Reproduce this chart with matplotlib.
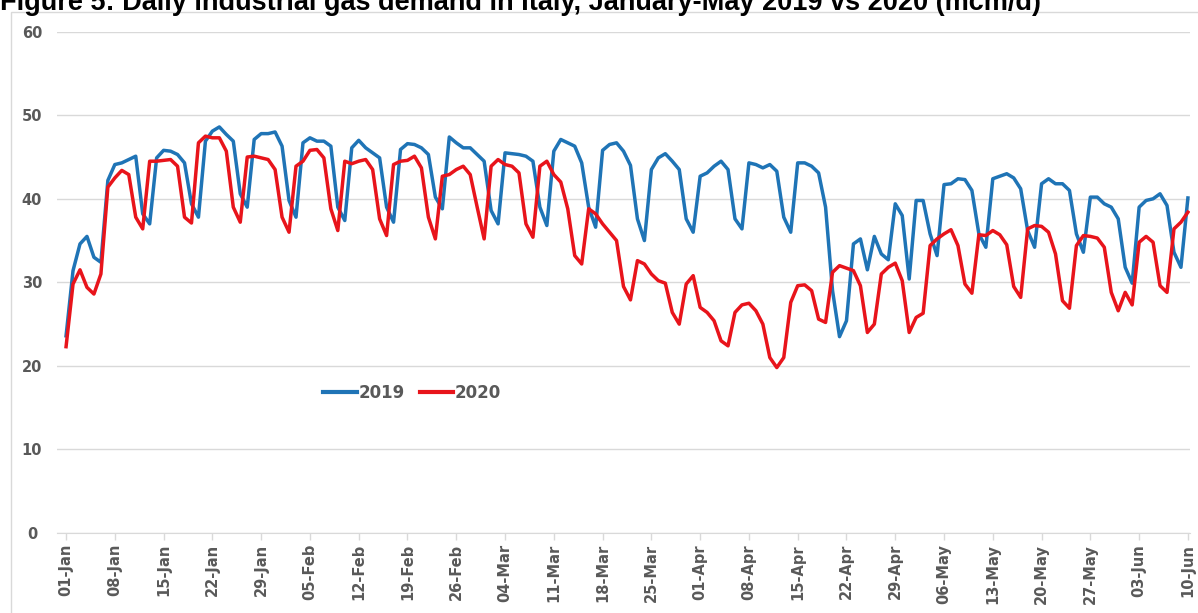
import numpy as np
import pandas as pd
import matplotlib
matplotlib.use('Agg')
import matplotlib.pyplot as plt
from matplotlib.patches import Rectangle

# daily industrial gas demand, mcm/d, 01-Jan .. 10-Jun (2020 calendar)
dates = pd.date_range('2020-01-01', '2020-06-10', freq='D')

demand_2019 = [
    23.6, 31.4, 34.6, 35.5, 33.0, 32.4, 42.2, 44.1, 44.3, 44.7,
    45.1, 38.2, 37.0, 44.9, 45.8, 45.7, 45.3, 44.3, 39.4, 37.8,
    46.9, 48.1, 48.6, 47.7, 46.9, 40.6, 39.0, 47.1, 47.8, 47.8,
    48.0, 46.3, 39.8, 37.8, 46.7, 47.3, 46.9, 46.9, 46.3, 39.0,
    37.4, 46.1, 47.0, 46.1, 45.5, 44.9, 39.0, 37.2, 45.9, 46.6,
    46.5, 46.1, 45.3, 40.2, 38.8, 47.4, 46.7, 46.1, 46.1, 45.3,
    44.5, 38.6, 37.0, 45.5, 45.4, 45.3, 45.1, 44.5, 39.0, 36.8,
    45.7, 47.1, 46.7, 46.3, 44.3, 39.0, 36.6, 45.8, 46.5, 46.7,
    45.7, 44.0, 37.6, 35.0, 43.5, 44.9, 45.4, 44.5, 43.5, 37.6,
    36.0, 42.7, 43.1, 43.9, 44.5, 43.5, 37.6, 36.4, 44.3, 44.1,
    43.7, 44.1, 43.3, 37.8, 36.0, 44.3, 44.3, 43.9, 43.1, 39.0,
    29.0, 23.5, 25.4, 34.6, 35.2, 31.5, 35.5, 33.4, 32.7, 39.4,
    38.0, 30.4, 39.8, 39.8, 35.8, 33.2, 41.7, 41.8, 42.4, 42.3,
    41.0, 35.8, 34.2, 42.4, 42.7, 43.0, 42.5, 41.2, 36.2, 34.2,
    41.8, 42.4, 41.8, 41.8, 41.0, 35.8, 33.6, 40.2, 40.2, 39.4,
    39.0, 37.6, 31.8, 29.9, 39.0, 39.8, 40.0, 40.6, 39.2, 33.6,
    31.8, 40.1,
]

demand_2020 = [
    22.3, 29.8, 31.5, 29.4, 28.6, 31.0, 41.4, 42.5, 43.4, 42.9,
    37.8, 36.4, 44.5, 44.5, 44.6, 44.7, 43.9, 37.8, 37.1, 46.7,
    47.5, 47.3, 47.3, 45.7, 39.0, 37.2, 45.0, 45.1, 44.9, 44.7,
    43.5, 37.8, 36.0, 43.9, 44.5, 45.8, 45.9, 44.9, 38.8, 36.2,
    44.5, 44.2, 44.5, 44.7, 43.5, 37.6, 35.6, 44.1, 44.5, 44.6,
    45.1, 43.7, 37.8, 35.2, 42.7, 42.9, 43.5, 43.9, 42.9, 39.0,
    35.2, 43.9, 44.7, 44.1, 43.9, 43.1, 37.0, 35.4, 43.9, 44.5,
    42.9, 42.0, 38.8, 33.2, 32.2, 38.8, 38.2, 37.0, 36.0, 35.0,
    29.5, 27.9, 32.6, 32.2, 31.0, 30.2, 29.9, 26.4, 25.0, 29.8,
    30.8, 27.0, 26.4, 25.4, 23.0, 22.4, 26.4, 27.3, 27.5, 26.6,
    25.0, 21.0, 19.8, 21.0, 27.6, 29.6, 29.7, 29.0, 25.6, 25.2,
    31.2, 32.0, 31.7, 31.4, 29.6, 24.0, 25.0, 31.0, 31.8, 32.3,
    30.2, 24.0, 25.8, 26.3, 34.4, 35.2, 35.8, 36.3, 34.4, 29.8,
    28.7, 35.7, 35.6, 36.2, 35.7, 34.5, 29.5, 28.2, 36.4, 36.8,
    36.7, 36.0, 33.4, 27.8, 26.9, 34.4, 35.6, 35.5, 35.3, 34.2,
    28.8, 26.6, 28.8, 27.3, 34.8, 35.5, 34.8, 29.6, 28.8, 36.4,
    37.2, 38.4,
]

y_ticks = [0, 10, 20, 30, 40, 50, 60]
title = 'Figure 5: Daily industrial gas demand in Italy, January-May 2019 vs 2020 (mcm/d)'

GREY = '#595959'
BLUE = '#1f74b6'
RED = '#e8141b'

fig = plt.figure(figsize=(11.98, 6.13), dpi=100)

# outer chart frame, as in the spreadsheet export
fig.patches.append(Rectangle((11 / 1198, -0.01), 1.0, 1 - 12 / 613 + 0.01,
                             transform=fig.transFigure, fill=False,
                             edgecolor='#d9d9d9', linewidth=1.0))

# title sits partly above the image edge in the original export
fig.text(0.0, 1 - 10 / 613, title, fontsize=19.5, fontweight='bold',
         family='Liberation Sans', ha='left', va='baseline', color='black')

ax = fig.add_axes([57 / 1198, 80 / 613, (1190 - 57) / 1198, (533 - 31.7) / 613])

x = np.arange(len(dates))
ax.plot(x, demand_2019, color=BLUE, lw=2.5, label='2019', solid_joinstyle='round')
ax.plot(x, demand_2020, color=RED, lw=2.5, label='2020', solid_joinstyle='round')

ax.set_ylim(0, 60)
ax.set_xlim(-1.3, len(dates) - 1 + 0.3)
ax.set_yticks(y_ticks)
ax.yaxis.grid(True, color='#d9d9d9', lw=1.0)
ax.set_axisbelow(True)

tick_pos = x[::7]
ax.set_xticks(tick_pos)
ax.set_xticklabels([d.strftime('%d-%b') for d in dates[::7]], rotation=90)

for s in ['top', 'right', 'left']:
    ax.spines[s].set_visible(False)
ax.spines['bottom'].set_color('#d9d9d9')
ax.tick_params(axis='x', colors='#d9d9d9', length=5, width=1, labelcolor=GREY,
               labelsize=10.5, pad=3)
ax.tick_params(axis='y', length=0, labelcolor=GREY, labelsize=10.5, pad=18)
for lab in ax.get_xticklabels() + ax.get_yticklabels():
    lab.set_fontweight('semibold')
for lab in ax.get_yticklabels():
    lab.set_horizontalalignment('center')

leg = ax.legend(loc='center', bbox_to_anchor=(412 / 1198, 1 - 393 / 613),
                bbox_transform=fig.transFigure, ncol=2, frameon=False,
                handlelength=2.0, handletextpad=0.1, columnspacing=0.9,
                prop={'size': 12, 'weight': 'bold'})
for t in leg.get_texts():
    t.set_color(GREY)
for h in leg.get_lines():
    h.set_linewidth(3)

fig.savefig('out.png', dpi=100)
